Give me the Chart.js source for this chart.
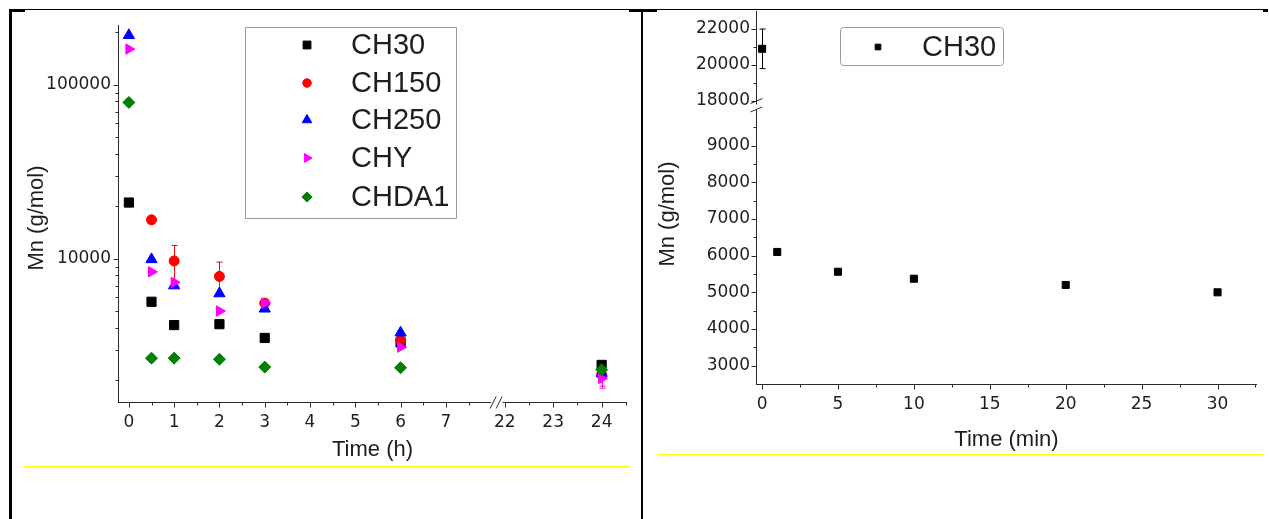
<!DOCTYPE html>
<html>
<head>
<meta charset="utf-8">
<script src="https://cdn.jsdelivr.net/npm/chart.js@4.4.1/dist/chart.umd.min.js"></script>
<style>
  html, body { margin: 0; padding: 0; background: #fff; }
  body { width: 1269px; height: 519px; position: relative; overflow: hidden; }
  canvas { position: absolute; top: 0; }
  .rule { position: absolute; background: #000; }
  .mark { position: absolute; background: #ffff00; height: 1px; }
</style>
</head>
<body>
<canvas id="hours" width="640" height="470" style="left:0"></canvas>
<canvas id="minutes" width="624" height="460" style="left:645px"></canvas>

<!-- table frame -->
<div class="rule" style="left:10px;top:9px;width:1258px;height:1px"></div>
<div class="rule" style="left:9px;top:9px;width:3px;height:510px"></div>
<div class="rule" style="left:641px;top:9px;width:2px;height:510px"></div>
<div class="rule" style="left:10px;top:9px;width:15px;height:3px"></div>
<div class="rule" style="left:629px;top:9px;width:28px;height:3px"></div>
<div class="rule" style="left:1263px;top:9px;width:5px;height:3px"></div>
<div class="mark" style="left:24px;top:466px;width:605px"></div>
<div class="mark" style="left:658px;top:454px;width:605px"></div>

<script>
// ---- hydrolysis over hours (log Mn) ----
const hourTicks = [0, 1, 2, 3, 4, 5, 6, 7, 22, 23, 24];
const hours     = [0, 0.5, 1, 2, 3, 6, 24];
const mnCH30    = [21000, 5650, 4150, 4200, 3500, 3300, 2450];
const mnCH150   = [null, 16700, 9700, 7900, 5550, 3400, 2150];
const errCH150  = [0, 0, 2200, 1650, 0, 0, 300];
const mnCH250   = [192000, 9900, 7000, 6300, 5150, 3750, 2200];
const mnCHY     = [160000, 8400, 7300, 5000, 5550, 3100, 2050];
const errCHY    = [0, 0, 0, 0, 0, 0, 250];
const mnCHDA1   = [79000, 2680, 2680, 2640, 2380, 2360, 2300];
const logTicks  = [10000, 100000];

// ---- first 30 minutes (CH30) ----
const minuteTicks = [0, 5, 10, 15, 20, 25, 30];
const minutes     = [0, 1, 5, 10, 20, 30];
const mnCH30min   = [20900, 6100, 5560, 5370, 5200, 5000];
const errCH30min  = [1100, 0, 0, 0, 0, 0];
const mnTicks     = [3000, 4000, 5000, 6000, 7000, 8000, 9000, 18000, 20000, 22000];

const ARIAL = '"Liberation Sans", Arial, sans-serif';
const INK = '#1e1e1e';
Chart.defaults.font.family = '"DejaVu Sans", sans-serif';
Chart.defaults.font.size = 17;
Chart.defaults.color = INK;

// broken time axis: 0-8 h, then 22-24.6 h
function hourPos(h) { return h <= 8 ? h : 8.30 + (h - 22) * 1.07; }
// broken Mn axis: 2500-10000, then 18000-23000 at half scale
function mnPos(v) { return v <= 10000 ? v : 10218 + (v - 18000) * 0.49; }

function errRange(vals, errs, map) {
  return {
    errHi: vals.map((v, i) => (v == null || !errs[i]) ? null : map(v + errs[i])),
    errLo: vals.map((v, i) => (v == null || !errs[i]) ? null : map(v - errs[i]))
  };
}

function series(label, xs, ys, xMap, yMap, color, style, radius, rotation, order, errs) {
  const ds = {
    label,
    data: xs.map((x, i) => ({ x: xMap(x), y: ys[i] == null ? null : yMap(ys[i]) })),
    pointStyle: style,
    pointRadius: radius,
    pointHoverRadius: radius,
    pointRotation: rotation,
    backgroundColor: color,
    borderColor: color,
    borderWidth: 1,
    order
  };
  if (errs) Object.assign(ds, errRange(ys, errs, yMap));
  return ds;
}

function markerOf(ds, scale) {
  return { pointStyle: ds.pointStyle, radius: ds.pointRadius * scale, rotation: ds.pointRotation, borderWidth: 1 };
}

function drawMarker(ctx, opts, x, y) {
  if (Chart.helpers && Chart.helpers.drawPoint) {
    Chart.helpers.drawPoint(ctx, opts, x, y);
  } else {
    ctx.beginPath(); ctx.arc(x, y, opts.radius, 0, Math.PI * 2); ctx.fill();
  }
}

// axis lines, tick marks, axis breaks, error bars, legend and vertical title
function makeDecor(cfg) {
  return {
    id: 'decor',
    beforeDatasetsDraw(chart) {
      const ctx = chart.ctx, xs = chart.scales.x, ys = chart.scales.y;
      chart.data.datasets.forEach(ds => {
        if (!ds.errHi) return;
        ctx.save();
        ctx.strokeStyle = ds.borderColor;
        ctx.lineWidth = 1;
        ds.data.forEach((p, i) => {
          if (ds.errHi[i] == null) return;
          const x = Math.round(xs.getPixelForValue(p.x)) + 0.5;
          const y1 = ys.getPixelForValue(ds.errHi[i]);
          const y2 = ys.getPixelForValue(ds.errLo[i]);
          ctx.beginPath();
          ctx.moveTo(x, y1); ctx.lineTo(x, y2);
          ctx.moveTo(x - 3, y1); ctx.lineTo(x + 3, y1);
          ctx.moveTo(x - 3, y2); ctx.lineTo(x + 3, y2);
          ctx.stroke();
        });
        ctx.restore();
      });
    },
    afterDraw(chart) {
      const ctx = chart.ctx, a = chart.chartArea;
      const xs = chart.scales.x, ys = chart.scales.y;
      const L = Math.round(a.left) + 0.5, B = Math.round(a.bottom) + 0.5;
      ctx.save();
      ctx.strokeStyle = '#2a2a2a';
      ctx.lineWidth = 1;
      ctx.beginPath();
      // x axis line (with optional gap)
      if (cfg.xGap) {
        const g1 = xs.getPixelForValue(cfg.xGap[0]), g2 = xs.getPixelForValue(cfg.xGap[1]);
        ctx.moveTo(a.left, B); ctx.lineTo(g1, B);
        ctx.moveTo(g2, B); ctx.lineTo(a.right, B);
      } else {
        ctx.moveTo(a.left, B); ctx.lineTo(a.right, B);
      }
      // y axis line (with optional gap)
      if (cfg.yGap) {
        const g1 = ys.getPixelForValue(cfg.yGap[0]), g2 = ys.getPixelForValue(cfg.yGap[1]);
        ctx.moveTo(L, a.bottom); ctx.lineTo(L, g1);
        ctx.moveTo(L, g2); ctx.lineTo(L, a.top);
      } else {
        ctx.moveTo(L, a.bottom); ctx.lineTo(L, a.top);
      }
      // tick marks, pointing outward
      cfg.xMajor.forEach(v => { const x = Math.round(xs.getPixelForValue(v)) + 0.5; ctx.moveTo(x, B); ctx.lineTo(x, B + 5); });
      cfg.xMinor.forEach(v => { const x = Math.round(xs.getPixelForValue(v)) + 0.5; ctx.moveTo(x, B); ctx.lineTo(x, B + 3); });
      cfg.yMajor.forEach(v => { const y = Math.round(ys.getPixelForValue(v)) + 0.5; ctx.moveTo(L, y); ctx.lineTo(L - 5, y); });
      cfg.yMinor.forEach(v => { const y = Math.round(ys.getPixelForValue(v)) + 0.5; ctx.moveTo(L, y); ctx.lineTo(L - 3, y); });
      ctx.stroke();

      // break symbols
      ctx.beginPath();
      if (cfg.xGap) {
        const g1 = xs.getPixelForValue(cfg.xGap[0]);
        [g1 - 1, g1 + 5].forEach(x0 => { ctx.moveTo(x0, B + 6); ctx.lineTo(x0 + 6, B - 6); });
      }
      if (cfg.yGap) {
        const g1 = ys.getPixelForValue(cfg.yGap[0]), g2 = ys.getPixelForValue(cfg.yGap[1]);
        [g1 + 1, g2 - 3].forEach(y0 => { ctx.moveTo(L - 6, y0 + 2); ctx.lineTo(L + 6, y0 - 3); });
      }
      ctx.stroke();

      // vertical axis title
      const t = cfg.yTitle;
      ctx.save();
      ctx.translate(t.x, t.y);
      ctx.rotate(-Math.PI / 2);
      ctx.fillStyle = INK;
      ctx.font = '22px ' + ARIAL;
      ctx.textAlign = 'center';
      ctx.textBaseline = 'middle';
      ctx.fillText(t.text, 0, 0);
      ctx.restore();

      // legend box
      const lg = cfg.legend;
      const [bx, by, bw, bh] = lg.box;
      ctx.fillStyle = '#fff';
      ctx.strokeStyle = '#9a9a9a';
      ctx.beginPath();
      if (lg.round && ctx.roundRect) ctx.roundRect(bx + 0.5, by + 0.5, bw, bh, lg.round);
      else ctx.rect(bx + 0.5, by + 0.5, bw, bh);
      ctx.fill();
      ctx.stroke();
      ctx.font = lg.font + 'px ' + ARIAL;
      ctx.textAlign = 'left';
      ctx.textBaseline = 'middle';
      chart.data.datasets.forEach((ds, i) => {
        const y = lg.rowY[i];
        ctx.fillStyle = ds.backgroundColor;
        ctx.strokeStyle = ds.borderColor;
        drawMarker(ctx, markerOf(ds, lg.markerScale), lg.markerX, y);
        ctx.fillStyle = INK;
        ctx.fillText(ds.label, lg.textX, y + 1);
      });
      ctx.restore();
    }
  };
}

function fixedAxis(width, height) {
  return s => {
    if (width != null) s.width = width;
    if (height != null) s.height = height;
    s.paddingTop = 0; s.paddingBottom = 0; s.paddingLeft = 0; s.paddingRight = 0;
  };
}

const hidden = { display: false, drawTicks: false };
const noBorder = { display: false };

// ---- left panel ----
const hourMinor = [0.5, 1.5, 2.5, 3.5, 4.5, 5.5, 6.5, 7.5, 22.5, 23.5, 24.5];
const logMinor = [2000, 3000, 4000, 5000, 6000, 7000, 8000, 9000,
                  20000, 30000, 40000, 50000, 60000, 70000, 80000, 90000, 200000];

new Chart(document.getElementById('hours'), {
  type: 'scatter',
  data: {
    datasets: [
      series('CH30',  hours, mnCH30,  hourPos, v => v, '#000000', 'rect',     6.5, 0,  5),
      series('CH150', hours, mnCH150, hourPos, v => v, '#ff0000', 'circle',   5,   0,  4, errCH150),
      series('CH250', hours, mnCH250, hourPos, v => v, '#0000ff', 'triangle', 6.5, 0,  3),
      series('CHY',   hours, mnCHY,   hourPos, v => v, '#ff00ff', 'triangle', 6,   90, 2, errCHY),
      series('CHDA1', hours, mnCHDA1, hourPos, v => v, '#008000', 'rectRot',  6,   0,  1)
    ]
  },
  options: {
    responsive: false,
    animation: false,
    events: [],
    layout: { padding: { left: 0, top: 25, right: 13, bottom: 6 } },
    plugins: { legend: { display: false }, tooltip: { enabled: false } },
    scales: {
      x: {
        type: 'linear', min: -0.24, max: 11.0,
        grid: hidden, border: noBorder,
        afterBuildTicks: s => { s.ticks = hourTicks.map(h => ({ value: hourPos(h) })); },
        ticks: { autoSkip: false, maxRotation: 0, padding: 10, callback: (v, i) => String(hourTicks[i]) },
        title: { display: true, text: 'Time (h)', font: { family: ARIAL, size: 22 }, color: INK, padding: { top: 0, bottom: 1 } },
        afterFit: fixedAxis(null, 62)
      },
      y: {
        type: 'logarithmic', min: 1500, max: 220000,
        grid: hidden, border: noBorder,
        afterBuildTicks: s => { s.ticks = logTicks.map(v => ({ value: v })); },
        ticks: { autoSkip: false, padding: 7, callback: v => String(v) },
        afterFit: fixedAxis(118, null)
      }
    }
  },
  plugins: [makeDecor({
    xMajor: hourTicks.map(hourPos),
    xMinor: hourMinor.map(hourPos),
    yMajor: logTicks,
    yMinor: logMinor,
    xGap: [hourPos(8), hourPos(21.96)],
    yGap: null,
    yTitle: { x: 37, y: 218, text: 'Mn (g/mol)' },
    legend: { box: [245, 27, 211, 191], markerX: 307, textX: 351, rowY: [45, 83, 120, 158, 197], font: 29, markerScale: 0.85 }
  })]
});

// ---- right panel ----
const minuteMinor = [2.5, 7.5, 12.5, 17.5, 22.5, 27.5, 32.5];
const mnMinor = [3500, 4500, 5500, 6500, 7500, 8500, 9500, 19000, 21000];

new Chart(document.getElementById('minutes'), {
  type: 'scatter',
  data: {
    datasets: [
      series('CH30', minutes, mnCH30min, m => m, mnPos, '#000000', 'rect', 5, 0, 1, errCH30min)
    ]
  },
  options: {
    responsive: false,
    animation: false,
    events: [],
    layout: { padding: { left: 0, top: 11, right: 12, bottom: 6 } },
    plugins: { legend: { display: false }, tooltip: { enabled: false } },
    scales: {
      x: {
        type: 'linear', min: -0.4, max: 32.6,
        grid: hidden, border: noBorder,
        afterBuildTicks: s => { s.ticks = minuteTicks.map(m => ({ value: m })); },
        ticks: { autoSkip: false, maxRotation: 0, padding: 10, callback: (v, i) => String(minuteTicks[i]) },
        title: { display: true, text: 'Time (min)', font: { family: ARIAL, size: 22 }, color: INK, padding: { top: 0, bottom: 1 } },
        afterFit: fixedAxis(null, 70)
      },
      y: {
        type: 'linear', min: 2500, max: 12670,
        grid: hidden, border: noBorder,
        afterBuildTicks: s => { s.ticks = mnTicks.map(v => ({ value: mnPos(v) })); },
        ticks: { autoSkip: false, padding: 6, callback: (v, i) => String(mnTicks[i]) },
        afterFit: fixedAxis(111, null)
      }
    }
  },
  plugins: [makeDecor({
    xMajor: minuteTicks,
    xMinor: minuteMinor,
    yMajor: mnTicks.map(mnPos),
    yMinor: mnMinor.map(mnPos),
    xGap: null,
    yGap: [mnPos(10000), mnPos(17800)],
    yTitle: { x: 23, y: 214, text: 'Mn (g/mol)' },
    legend: { box: [195, 27, 163, 38], round: 3, markerX: 233, textX: 277, rowY: [47], font: 29, markerScale: 0.8 }
  })]
});
</script>
</body>
</html>
